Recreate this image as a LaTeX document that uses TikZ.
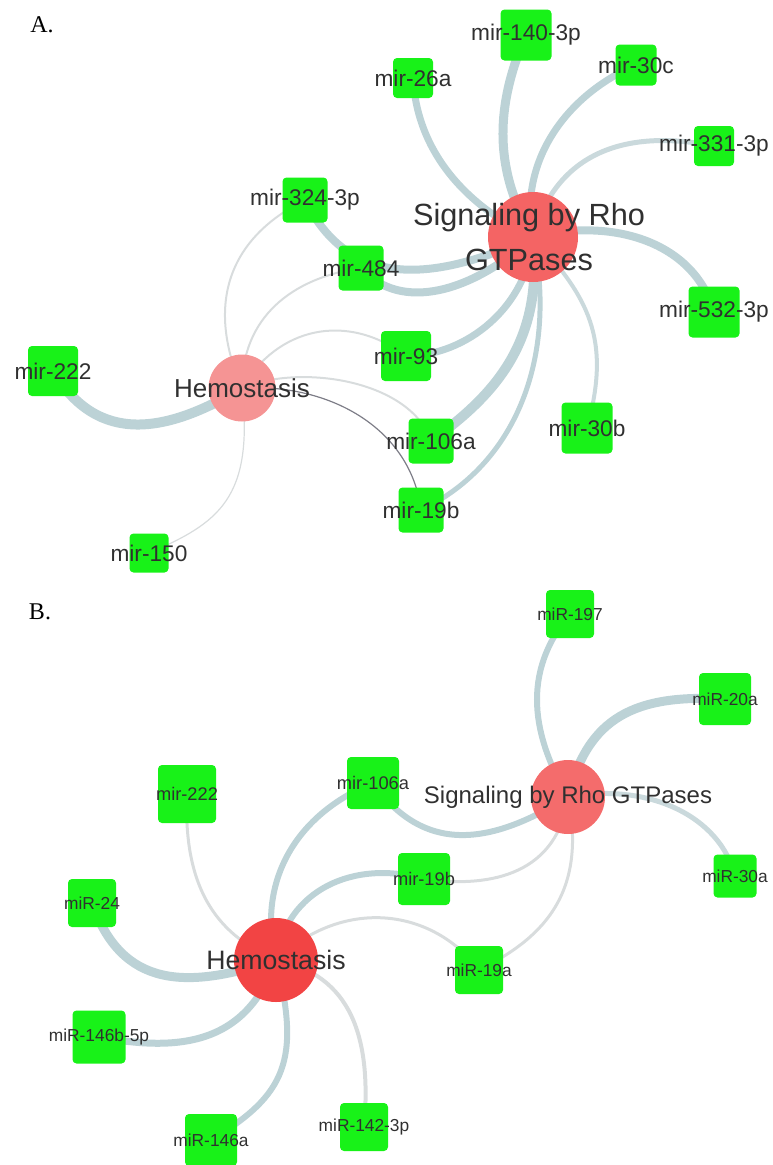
\documentclass[tikz,border=0pt]{standalone}
\usepackage{fontspec}
\setmainfont{Liberation Sans}
\newfontfamily\panelfont{Liberation Serif}
\usepackage{tikz}
\usetikzlibrary{backgrounds}
\definecolor{boxgreen}{RGB}{24,242,24}
\definecolor{linkblue}{RGB}{188,210,214}
\definecolor{linksoft}{RGB}{202,217,220}
\definecolor{linkgray}{RGB}{216,220,221}
\definecolor{linkdark}{RGB}{125,125,135}
\definecolor{txtgray}{RGB}{48,48,48}
\definecolor{hubredA}{RGB}{244,100,100}
\definecolor{hubpinkA}{RGB}{245,148,148}
\definecolor{hubredB}{RGB}{244,108,108}
\definecolor{hubdeepB}{RGB}{242,68,68}
\tikzset{
        mirbox/.style = {rectangle, rounded corners=3pt, fill=boxgreen,
            minimum size={#1*0.75pt}, inner sep=0pt},
        hub/.style = {circle, minimum size={#1*0.75pt}, inner sep=0pt},
        wire/.style = {draw=linkblue, line width={#1*0.75pt}},
        softwire/.style = {draw=linksoft, line width={#1*0.75pt}},
        faint/.style = {draw=linkgray, line width={#1*0.75pt}},
        labA/.style = {font=\fontsize{17}{20}\selectfont, text=txtgray},
        labB/.style = {font=\fontsize{13}{15}\selectfont, text=txtgray},
        labBm/.style = {font=\fontsize{13.7}{16}\selectfont, text=txtgray},
    }

\begin{document}
\begin{tikzpicture}[x=0.75pt,y=0.75pt,yscale=-1,xscale=1]
\useasboundingbox (0,0) rectangle (772,1165);

% Panel letters
\node [font=\panelfont\fontsize{18}{20}\selectfont] (panelA) at (42,25) {A.};
\node [font=\panelfont\fontsize{18}{20}\selectfont] (panelB) at (40,612) {B.};

% Hubs
\node [hub=90, fill=hubredA, label={[xshift=-3, align=center, font=\fontsize{23}{34}\selectfont, text=txtgray]center:{Signaling by Rho\\GTPases}}] (rhoA) at (533,237) {};
\node [hub=67, fill=hubpinkA, label={[font=\fontsize{19.5}{22}\selectfont, text=txtgray]center:Hemostasis}] (hemA) at (242,388) {};
\node [hub=74, fill=hubredB, label={[font=\fontsize{18}{20}\selectfont, text=txtgray]center:Signaling by Rho GTPases}] (rhoB) at (568,797) {};
\node [hub=84, fill=hubdeepB, label={[font=\fontsize{20}{22}\selectfont, text=txtgray]center:Hemostasis}] (hemB) at (276,960) {};

% miRNA boxes, panel A
\node [mirbox=51, label={[labA]center:mir-140-3p}] (m140A) at (526,35) {};
\node [mirbox=40, label={[labA]center:mir-26a}] (m26aA) at (413,78) {};
\node [mirbox=41, label={[labA]center:mir-30c}] (m30cA) at (636,65) {};
\node [mirbox=40, label={[labA]center:mir-331-3p}] (m331A) at (714,146) {};
\node [mirbox=45, label={[labA]center:mir-324-3p}] (m324A) at (305,200) {};
\node [mirbox=45, label={[labA]center:mir-484}] (m484A) at (361,268) {};
\node [mirbox=51, label={[labA]center:mir-532-3p}] (m532A) at (714,312) {};
\node [mirbox=50, label={[labA]center:mir-93}] (m93A) at (406,356) {};
\node [mirbox=50, label={[labA]center:mir-222}] (m222A) at (53,371) {};
\node [mirbox=45, label={[labA]center:mir-106a}] (m106aA) at (431,441) {};
\node [mirbox=51, label={[labA]center:mir-30b}] (m30bA) at (587,428) {};
\node [mirbox=45, label={[labA]center:mir-19b}] (m19bA) at (421,510) {};
\node [mirbox=39, label={[labA]center:mir-150}] (m150A) at (149,553) {};

% miRNA boxes, panel B
\node [mirbox=48, label={[labB]center:miR-197}] (m197B) at (570,614) {};
\node [mirbox=52, label={[labB]center:miR-20a}] (m20aB) at (725,699) {};
\node [mirbox=52, label={[labBm]center:mir-106a}] (m106aB) at (373,783) {};
\node [mirbox=58, label={[labBm]center:mir-222}] (m222B) at (187,794) {};
\node [mirbox=43, label={[labB]center:miR-30a}] (m30aB) at (735,876) {};
\node [mirbox=52, label={[labBm]center:mir-19b}] (m19bB) at (424,879) {};
\node [mirbox=48, label={[labB]center:miR-24}] (m24B) at (92,903) {};
\node [mirbox=48, label={[labB]center:miR-19a}] (m19aB) at (479,970) {};
\node [mirbox=53, label={[labB]center:miR-146b-5p}] (m146bB) at (99,1037) {};
\node [mirbox=52, label={[labB]center:miR-146a}] (m146aB) at (211,1140) {};
\node [mirbox=48, label={[labB]center:miR-142-3p}] (m142B) at (364,1127) {};

\begin{scope}[on background layer]
%Curve Lines, panel A
\draw [wire=7] (m26aA.center) .. controls +(5,90) and +(-45,-20) .. (rhoA.center);
\draw [wire=9] (m140A.center) .. controls +(-35,80) and +(-35,-60) .. (rhoA.center);
\draw [wire=7] (m30cA.center) .. controls +(-70,30) and +(-15,-75) .. (rhoA.center);
\draw [softwire=5] (m331A.center) .. controls +(-100,-20) and +(20,-75) .. (rhoA.center);
\draw [wire=8] (m532A.center) .. controls +(-20,-70) and +(80,-20) .. (rhoA.center);
\draw [softwire=4] (m30bA.center) .. controls +(25,-90) and +(55,60) .. (rhoA.center);
\draw [wire=5] (m19bA.center) .. controls +(95,-45) and +(25,120) .. (rhoA.center);
\draw [wire=10] (m106aA.center) .. controls +(70,-50) and +(10,100) .. (rhoA.center);
\draw [wire=7] (m93A.center) .. controls +(60,0) and +(-5,70) .. (rhoA.center);
\draw [wire=8] (m484A.center) .. controls +(40,45) and +(-60,55) .. (rhoA.center);
\draw [wire=8] (m324A.center) .. controls +(45,90) and +(-100,45) .. (rhoA.center);
\draw [wire=10] (m222A.center) .. controls +(45,75) and +(-75,45) .. (hemA.center);
\draw [faint=2] (m324A.center) .. controls +(-80,40) and +(-35,-80) .. (hemA.center);
\draw [faint=2] (m484A.center) .. controls +(-70,10) and +(0,-70) .. (hemA.center);
\draw [faint=2] (m93A.center) .. controls +(-60,-45) and +(35,-60) .. (hemA.center);
\draw [faint=2] (hemA.center) .. controls +(60,-25) and +(-20,-60) .. (m106aA.center);
\draw [draw=linkdark, line width=0.9pt] (hemA.center) .. controls +(90,-5) and +(-10,-80) .. (m19bA.center);
\draw [faint=1.2] (hemA.center) .. controls +(12,110) and +(70,-30) .. (m150A.center);
%Curve Lines, panel B
\draw [wire=6] (m197B.center) .. controls +(-50,60) and +(-35,-60) .. (rhoB.center);
\draw [wire=9] (m20aB.center) .. controls +(-90,-5) and +(20,-80) .. (rhoB.center);
\draw [softwire=5] (m30aB.center) .. controls +(-15,-60) and +(80,-15) .. (rhoB.center);
\draw [wire=6] (m106aB.center) .. controls +(50,70) and +(-80,50) .. (rhoB.center);
\draw [faint=3] (m19bB.center) .. controls +(70,10) and +(-10,75) .. (rhoB.center);
\draw [faint=3] (m19aB.center) .. controls +(60,-30) and +(20,100) .. (rhoB.center);
\draw [faint=3] (m222B.center) .. controls +(-5,110) and +(-45,-20) .. (hemB.center);
\draw [wire=6] (m106aB.center) .. controls +(-75,30) and +(-20,-80) .. (hemB.center);
\draw [wire=6] (m19bB.center) .. controls +(-70,-20) and +(10,-70) .. (hemB.center);
\draw [faint=3] (m19aB.center) .. controls +(-45,-60) and +(70,-65) .. (hemB.center);
\draw [wire=9] (m24B.center) .. controls +(30,85) and +(-90,30) .. (hemB.center);
\draw [wire=7] (m146bB.center) .. controls +(80,15) and +(-30,85) .. (hemB.center);
\draw [wire=6] (m146aB.center) .. controls +(75,-45) and +(25,100) .. (hemB.center);
\draw [faint=4] (m142B.center) .. controls +(8,-90) and +(75,15) .. (hemB.center);
\end{scope}

\end{tikzpicture}
\end{document}
